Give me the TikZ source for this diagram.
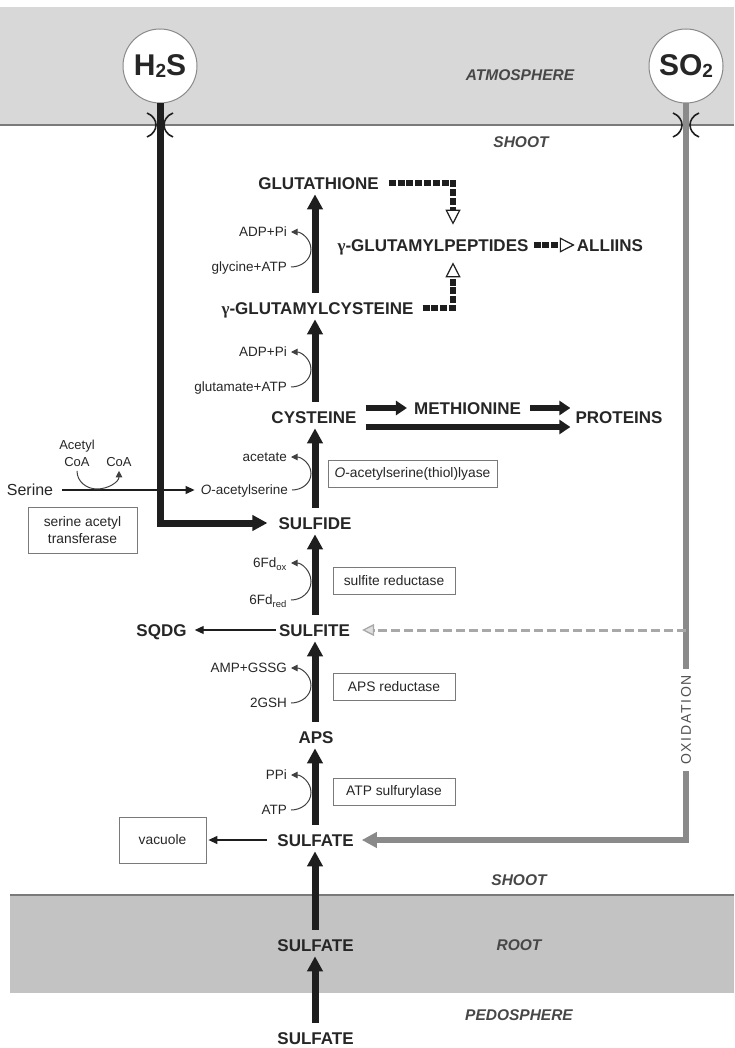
\documentclass[tikz,border=0pt]{standalone}
\usepackage{fontspec}
\setmainfont{Liberation Sans}
\newfontfamily\gammafont{Liberation Serif}
\usetikzlibrary{arrows.meta}
\definecolor{txt}{HTML}{262626}
\definecolor{ink}{HTML}{1E1E1E}
\definecolor{topband}{HTML}{D8D8D8}
\definecolor{botband}{HTML}{C3C3C3}
\definecolor{bandln}{HTML}{7A7A7A}
\definecolor{so2c}{HTML}{8A8A8A}
\definecolor{dashc}{HTML}{A8A8A8}
\definecolor{boxc}{HTML}{7A7A7A}
\newcommand{\gam}{{\gammafont\bfseries γ}}
\begin{document}
\begin{tikzpicture}[x=1pt,y=1pt,
 met/.style={font=\bfseries\fontsize{17}{20}\selectfont, text=txt, inner sep=0pt, text height=12.2pt, text depth=0pt},
 lab/.style={font=\fontsize{13.5}{15}\selectfont, text=txt, inner sep=0pt, anchor=east, text height=9.7pt, text depth=0pt},
 region/.style={font=\bfseries\itshape\fontsize{15.5}{18}\selectfont, text=txt!85, inner sep=0pt},
 enz/.style={draw=boxc, line width=0.8pt, fill=white, font=\fontsize{13.8}{17}\selectfont, text=txt, inner sep=0pt, align=center},
 gas/.style={circle, draw=so2c, line width=1pt, fill=white, minimum size=74pt, inner sep=0pt, font=\bfseries\fontsize{30}{32}\selectfont, text=txt},
 mainarr/.style={draw=ink, line width=7pt, -{Triangle[width=15pt,length=15pt]}, shorten <=9pt, shorten >=5pt},
 sidearr/.style={draw=ink, line width=6pt, -{Triangle[width=14pt,length=11pt]}},
 curv/.style={draw=ink!85, line width=1pt, -{Triangle[width=6.5pt,length=6.5pt]}},
 thinarr/.style={draw=ink, line width=1.2pt, -{Triangle[width=8pt,length=9pt]}},
 dasharr/.style={draw=ink, line width=5.5pt, dash pattern=on 7pt off 1.8pt, -{Triangle[fill=white,width=15pt,length=15pt,line width=1.2pt]}},
 h2sline/.style={draw=ink, line width=7pt, -{Triangle[width=15pt,length=15pt]}},
 so2line/.style={draw=so2c, line width=6pt, -{Triangle[width=15pt,length=15pt]}},
 greydash/.style={draw=dashc, line width=3pt, dash pattern=on 9pt off 4pt, -{Triangle[fill=gray!25,width=12pt,length=12pt,line width=1.3pt]}},
 memb/.style={draw=ink, line width=1.6pt},
]
\useasboundingbox (0,0) rectangle (734,-1048);
% bands
\fill[topband] (0,-7) rectangle (734,-125);
\draw[bandln, line width=1.2pt] (0,-125) -- (734,-125);
\fill[botband] (10,-895) rectangle (734,-993);
\draw[bandln, line width=1.2pt] (10,-895) -- (734,-895);

% region labels
\node[region] (atm) at (520,-75) {ATMOSPHERE};
\node[region] (shoot1) at (521,-142) {SHOOT};
\node[region] (shoot2) at (519,-880) {SHOOT};
\node[region] (root) at (519,-945) {ROOT};
\node[region] (pedo) at (519,-1015) {PEDOSPHERE};

\coordinate (axis) at (315,0);

% metabolites
\node[met] (glut) at (318.5,-183) {GLUTATHIONE};
\node[met] (ggp) at (433,-245) {\gam-GLUTAMYLPEPTIDES};
\node[met] (alliins) at (610,-245) {ALLIINS};
\node[met] (ggc) at (317.5,-308) {\gam-GLUTAMYLCYSTEINE};
\node[met] (cys) at (314,-417) {CYSTEINE};
\node[met] (meth) at (467.5,-408) {METHIONINE};
\node[met] (prot) at (619,-417) {PROTEINS};
\node[met] (sulfide) at (315,-523) {SULFIDE};
\node[met] (sulfite) at (314.5,-630) {SULFITE};
\node[met] (sqdg) at (161.5,-630) {SQDG};
\node[met] (aps) at (316,-737) {APS};
\node[met] (sulfate) at (315.5,-840) {SULFATE};
\node[met] (sulfateR) at (315.5,-945) {SULFATE};
\node[met] (sulfateP) at (315.5,-1038) {SULFATE};

% main pathway arrows
\draw[mainarr] (sulfateP.north -| axis) -- (sulfateR.south -| axis);
\draw[mainarr] (sulfateR.north -| axis) -- (sulfate.south -| axis);
\draw[mainarr] (sulfate.north -| axis) -- (aps.south -| axis);
\draw[mainarr] (aps.north -| axis) -- (sulfite.south -| axis);
\draw[mainarr] (sulfite.north -| axis) -- (sulfide.south -| axis);
\draw[mainarr] (sulfide.north -| axis) -- (cys.south -| axis);
\draw[mainarr] (cys.north -| axis) -- (ggc.south -| axis);
\draw[mainarr] (ggc.north -| axis) -- (glut.south -| axis);

% cysteine branches
\draw[sidearr, shorten <=9pt, shorten >=7pt] (cys.east |- meth.west) -- (meth.west);
\draw[sidearr, shorten <=9pt, shorten >=5pt] (meth.east) -- (prot.west |- meth.east);
\draw[sidearr, shorten <=9pt, shorten >=5pt] ([yshift=-10pt]cys.east) -- ([yshift=-10pt]prot.west);

% dashed glutamyl peptides
\draw[dasharr, shorten >=14pt] ([xshift=10pt]glut.east) -| ([xshift=20pt]ggp.north);
\draw[dasharr, shorten >=11pt] ([xshift=9pt]ggc.east) -| ([xshift=20pt]ggp.south);
\draw[dasharr, shorten <=5pt, shorten >=2pt] (ggp.east) -- (alliins.west);

% side labels
\node[lab] (adp1) at (287,-232) {ADP+Pi};
\node[lab] (gly) at (287,-267) {glycine+ATP};
\node[lab] (adp2) at (287,-352) {ADP+Pi};
\node[lab] (glu) at (287,-387) {glutamate+ATP};
\node[lab] (acet) at (287,-457) {acetate};
\node[lab] (oas) at (288,-490) {\textit{O}-acetylserine};
\node[lab] (fdox) at (287,-563) {6Fd\textsubscript{ox}};
\node[lab] (fdred) at (287,-600) {6Fd\textsubscript{red}};
\node[lab] (ampg) at (287,-668) {AMP+GSSG};
\node[lab] (gsh) at (287,-703) {2GSH};
\node[lab] (ppi) at (287,-775) {PPi};
\node[lab] (atp) at (287,-810) {ATP};

\foreach \i/\o/\y in {gly/adp1/249.5, glu/adp2/369.5, oas/acet/473.5, fdred/fdox/581.5, gsh/ampg/685.5, atp/ppi/792.5} {
  \coordinate (m\i) at (311,-\y);
  \draw[curv] ([xshift=4pt]\i.east) to[out=0,in=-90] (m\i) to[out=90,in=0] ([xshift=4pt]\o.east);
}

% serine branch
\node[font=\fontsize{16}{18}\selectfont, text=txt, inner sep=0pt] (serine) at (30,-490) {Serine};
\draw[thinarr, shorten <=9pt, shorten >=6pt] (serine.east) -- (oas.west);
\node[font=\fontsize{13}{17}\selectfont, text=txt, inner sep=0pt, align=center] (acoa) at (77,-453.5) {Acetyl\\CoA};
\node[font=\fontsize{13}{17}\selectfont, text=txt, inner sep=0pt] (coa) at (119,-462) {CoA};
\coordinate (cb) at (97,-489);
\draw[curv] ([yshift=-4pt]acoa.south) to[out=-90,in=180] (cb) to[out=0,in=-90] ([yshift=-4pt]coa.south);

% enzyme boxes
\node[enz, minimum width=169pt, minimum height=27pt] (oasl) at (412.5,-473.5) {\textit{O}-acetylserine(thiol)lyase};
\node[enz, minimum width=122pt, minimum height=27pt] (sir) at (394,-581) {sulfite reductase};
\node[enz, minimum width=122pt, minimum height=27pt] (apr) at (394,-686.5) {APS reductase};
\node[enz, minimum width=122pt, minimum height=27pt] (ats) at (394,-791.5) {ATP sulfurylase};
\node[enz, minimum width=109pt, minimum height=46pt] (sat) at (82.5,-530) {serine acetyl\\transferase};
\node[enz, minimum width=87pt, minimum height=46pt] (vac) at (162.5,-840) {vacuole};

% sinks
\draw[thinarr, shorten <=3pt, shorten >=8pt] (sulfite.west) -- (sqdg.east);
\draw[thinarr, shorten <=10pt, shorten >=2pt] (sulfate.west) -- (vac.east);

% gases
\node[gas] (h2s) at (160,-66) {H\raisebox{-2pt}{\fontsize{19}{19}\selectfont 2}S};
\node[gas] (so2) at (686,-66) {SO\raisebox{-2pt}{\fontsize{19}{19}\selectfont 2}};

\draw[h2sline, shorten >=11pt] (h2s.south) -- (h2s.south |- sulfide.west) -- (sulfide.west);
\draw[so2line, shorten >=8pt] (so2.south) -- (so2.south |- sulfate.east) -- (sulfate.east);
\coordinate (oxs) at (686,-630);
\draw[greydash, shorten >=12pt] (oxs) -- (sulfite.east);
\node[rotate=90, fill=white, inner xsep=6pt, inner ysep=3pt, text=txt!80, font=\fontsize{14}{16}\selectfont\addfontfeatures{LetterSpace=12}] (oxid) at (686,-720) {OXIDATION};

% membrane channels
\foreach \cx in {160,686} {
  \draw[memb] (\cx-13,-113) .. controls (\cx-1,-118) and (\cx-1,-132) .. (\cx-13,-137);
  \draw[memb] (\cx+13,-113) .. controls (\cx+1,-118) and (\cx+1,-132) .. (\cx+13,-137);
}
\end{tikzpicture}
\end{document}
